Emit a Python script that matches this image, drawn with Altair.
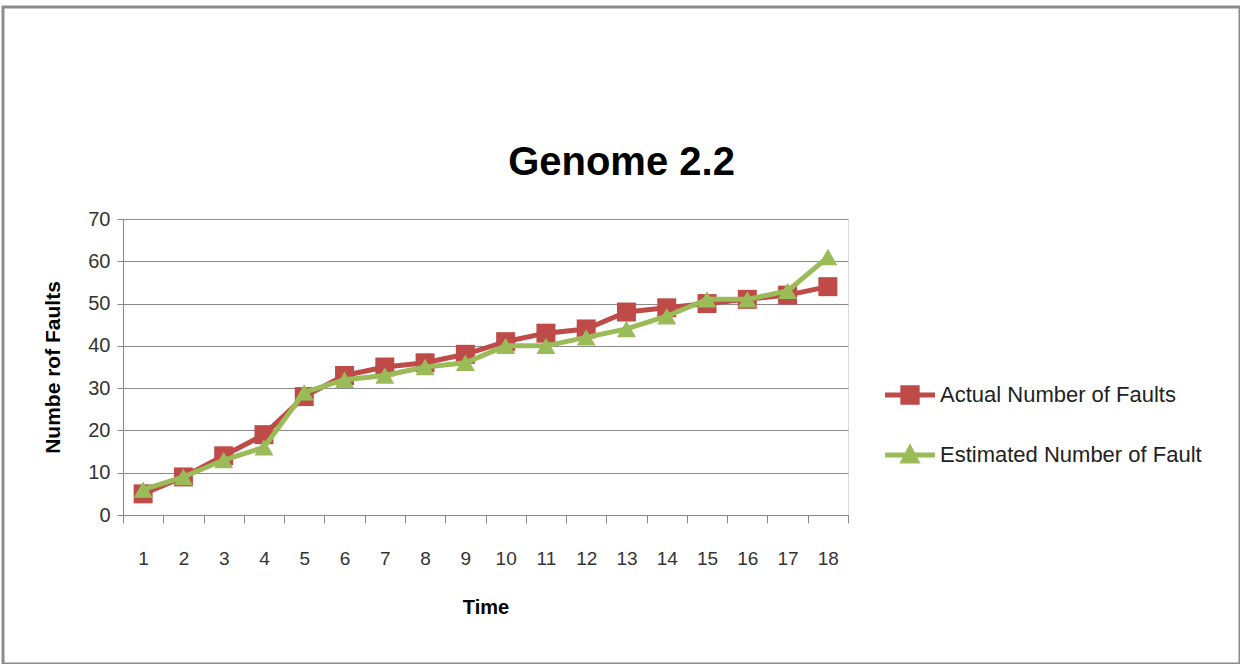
import altair as alt
import pandas as pd

time = list(range(1, 19))
actual = [5, 9, 14, 19, 28, 33, 35, 36, 38, 41, 43, 44, 48, 49, 50, 51, 52, 54]
estimated = [6, 9, 13, 16, 29, 32, 33, 35, 36, 40, 40, 42, 44, 47, 51, 51, 53, 61]
series_names = ["Actual Number of Faults", "Estimated Number of Fault"]
colors = ["#BE4B48", "#9BBB59"]
shapes = ["square", "triangle-up"]
# legend symbols: marker with a line segment through it (as in the reference)
legend_shapes = [
    "M-1.6,-0.16 H1.6 V0.16 H-1.6 Z M-0.62,-0.62 H0.62 V0.62 H-0.62 Z",
    "M-1.6,-0.16 H1.6 V0.16 H-1.6 Z M0,-0.75 L0.68,0.55 L-0.68,0.55 Z",
]

rows = []
for t, a, e in zip(time, actual, estimated):
    rows.append({"Time": t, "Faults": a, "Series": series_names[0]})
    rows.append({"Time": t, "Faults": e, "Series": series_names[1]})
df = pd.DataFrame(rows)

FONT = "Liberation Sans"

x = alt.X("Time:O", title="Time",
          axis=alt.Axis(labelAngle=0, tickBand="extent", labelFontSize=19,
                        labelPadding=26, tickSize=8, titleFontSize=20,
                        titleFontWeight="bold", titlePadding=29, grid=False,
                        domainColor="#888888", tickColor="#888888",
                        labelColor="#333333", titleColor="#000000"))
y = alt.Y("Faults:Q", title="Numbe rof Faults",
          scale=alt.Scale(domain=[0, 70], nice=False),
          axis=alt.Axis(values=list(range(0, 71, 10)), labelFontSize=20,
                        tickSize=6, labelPadding=7, titleFontSize=21,
                        titleFontWeight="bold", titlePadding=24,
                        domainColor="#888888", tickColor="#888888",
                        gridColor="#8a8a8a", gridWidth=1.2,
                        labelColor="#333333", titleColor="#000000"))

color_plain = alt.Color("Series:N", scale=alt.Scale(domain=series_names, range=colors),
                        legend=None)
shape_plain = alt.Shape("Series:N", scale=alt.Scale(domain=series_names, range=shapes),
                        legend=None)

legend_def = alt.Legend(title=None, orient="none", legendX=771, legendY=160,
                        labelFontSize=22, symbolSize=973, rowPadding=33,
                        labelLimit=0, labelColor="#222222", labelFont=FONT,
                        labelOffset=14, symbolStrokeWidth=0, symbolOpacity=1)

red_df = df[df["Series"] == series_names[0]]
green_df = df[df["Series"] == series_names[1]]


def line_layer(d):
    return alt.Chart(d).mark_line(strokeWidth=5).encode(x=x, y=y, color=color_plain)


def point_layer(d, size):
    return alt.Chart(d).mark_point(filled=True, size=size, opacity=1, strokeWidth=0).encode(
        x=x, y=y, color=color_plain, shape=shape_plain)


legend_layer = alt.Chart(df).transform_filter("false").mark_point(
    filled=True, opacity=1, strokeWidth=0
).encode(
    color=alt.Color("Series:N", scale=alt.Scale(domain=series_names, range=colors),
                    legend=legend_def),
    shape=alt.Shape("Series:N", scale=alt.Scale(domain=series_names, range=legend_shapes),
                    legend=legend_def),
)

border = alt.Chart(pd.DataFrame({"a": [0]})).mark_rect(
    fill=None, stroke="#8c8c8c", strokeWidth=3, clip=False
).encode(x=alt.value(-120), x2=alt.value(1117), y=alt.value(-212), y2=alt.value(445))

chart = alt.layer(
    border,
    line_layer(red_df), point_layer(red_df, 360),
    line_layer(green_df), point_layer(green_df, 360),
    legend_layer,
).resolve_scale(color="independent", shape="independent").properties(
    width=725, height=296,
    title=alt.TitleParams("Genome 2.2", fontSize=40, fontWeight="bold",
                          font=FONT, offset=-177, anchor="middle", frame="bounds",
                          color="#000000"),
    autosize=alt.AutoSizeParams(type="none"),
    padding={"left": 123, "top": 219, "right": 392, "bottom": 149},
).configure_view(stroke=None).configure(font=FONT, background="white")

chart.save("out.html", embed_options={"renderer": "svg", "actions": False})
